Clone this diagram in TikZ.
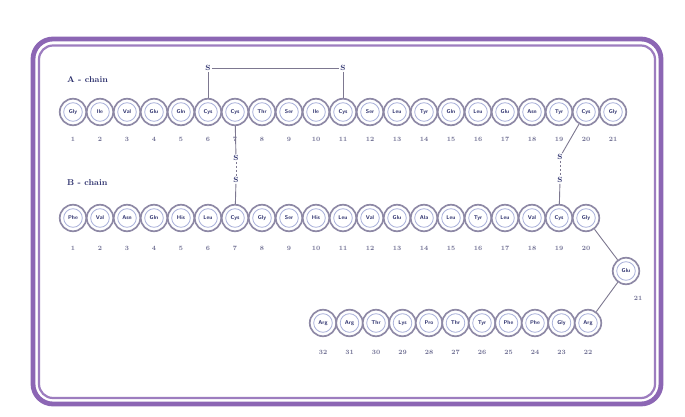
\documentclass[tikz,border=0pt]{standalone}
\usepackage{tikz}
\definecolor{framec}{HTML}{8C66B4}
\definecolor{ringc}{HTML}{8E89A6}
\definecolor{innerc}{HTML}{A9B1DA}
\definecolor{navy}{HTML}{2B2F6C}
\definecolor{numc}{HTML}{6E6E92}
\definecolor{linec}{HTML}{7D7890}
\tikzset{
  res/.style={circle, draw=ringc, line width=1.7pt, fill=white, minimum size=26.5pt, inner sep=0pt,
    font=\fontsize{5.5}{6}\selectfont\sffamily\bfseries, text=navy},
  num/.style={font=\fontsize{6.5}{7}\selectfont\bfseries, text=numc, inner sep=0pt},
  satom/.style={font=\fontsize{7.5}{8}\selectfont\bfseries, text=navy, inner sep=1pt},
  chainlbl/.style={font=\fontsize{8.5}{9}\selectfont\bfseries, text=navy, anchor=west, inner sep=0pt},
  bond/.style={draw=linec, line width=0.9pt},
  ssdash/.style={draw=linec, line width=0.9pt, dash pattern=on 2pt off 2pt},
}
\begin{document}
\begin{tikzpicture}[x=1pt,y=-1pt]
\useasboundingbox (0,0) rectangle (685,417);
\fill[white] (0,0) rectangle (685,417);
% frame
\draw[framec, line width=4.8pt, rounded corners=20pt] (33,39) rectangle (661,404);
\draw[framec!85, line width=2.2pt, rounded corners=14pt] (39,45.5) rectangle (655,398);
% chain labels
\node[chainlbl] (alabel) at (67,80) {A - chain};
\node[chainlbl] (blabel) at (67,183) {B - chain};
% A chain
\foreach \n [count=\i] in {Gly,Ile,Val,Glu,Gln,Cys,Cys,Thr,Ser,Ile,Cys,Ser,Leu,Tyr,Gln,Leu,Glu,Asn,Tyr,Cys,Gly}{
  \node[res] (a\i) at ({73+27*(\i-1)},112) {\n};
  \draw[innerc, line width=0.8pt] (a\i.center) circle (9.3pt);
  \node[num] (an\i) at ({73+27*(\i-1)},139) {\i};
}
% B chain row 1
\foreach \n [count=\i] in {Phe,Val,Asn,Gln,His,Leu,Cys,Gly,Ser,His,Leu,Val,Glu,Ala,Leu,Tyr,Leu,Val,Cys,Gly}{
  \node[res] (b\i) at ({73+27*(\i-1)},218) {\n};
  \draw[innerc, line width=0.8pt] (b\i.center) circle (9.3pt);
  \node[num] (bn\i) at ({73+27*(\i-1)},248) {\i};
}
% B21
\node[res] (b21) at (626,271) {Glu};
\draw[innerc, line width=0.8pt] (b21.center) circle (9.3pt);
\node[num] (bn21) at (638,298) {21};
% B chain bottom row (32 ... 22 from left)
\foreach \n [count=\k] in {Arg,Arg,Thr,Lys,Pro,Thr,Tyr,Phe,Phe,Gly,Arg}{
  \pgfmathtruncatemacro{\idx}{33-\k}
  \node[res] (b\idx) at ({323+26.5*(\k-1)},323) {\n};
  \draw[innerc, line width=0.8pt] (b\idx.center) circle (9.3pt);
  \node[num] (bn\idx) at ({323+26.5*(\k-1)},352) {\idx};
}
% B20 - B21 - B22 links
\draw[bond] (b20) -- (b21);
\draw[bond] (b21) -- (b22);
% intra-chain disulfide A6-A11
\node[satom] (s6) at (208,68) {S};
\node[satom] (s11) at (343,68) {S};
\draw[bond] (s6) -- (s11);
\draw[bond] (s6) -- (a6);
\draw[bond] (s11) -- (a11);
% A7-B7
\node[satom] (s7a) at (236,158) {S};
\node[satom] (s7b) at (236,180) {S};
\draw[bond] (a7) -- (s7a);
\draw[ssdash] (s7a) -- (s7b);
\draw[bond] (s7b) -- (b7);
% A20-B19
\node[satom] (s20a) at (560,157) {S};
\node[satom] (s19b) at (560,180) {S};
\draw[bond] (a20) -- (s20a);
\draw[ssdash] (s20a) -- (s19b);
\draw[bond] (s19b) -- (b19);
\end{tikzpicture}
\end{document}
